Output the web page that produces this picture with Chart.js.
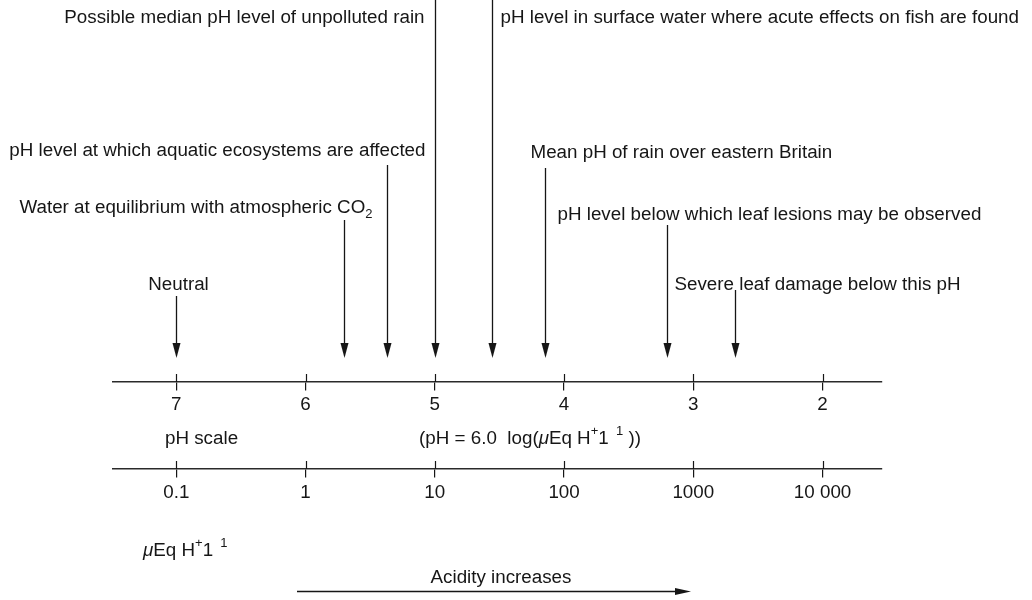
<!DOCTYPE html>
<html>
<head>
<meta charset="utf-8">
<script src="https://cdn.jsdelivr.net/npm/chart.js@4.4.0/dist/chart.umd.min.js"></script>
<style>
  html, body { margin: 0; padding: 0; background: #fff; }
  #wrap { width: 1032px; height: 600px; }
</style>
</head>
<body>
<div id="wrap"><canvas id="c"></canvas></div>
<script>
// pH scale ticks and the matching concentration ticks (uEq H+ per litre)
const phTicks = [7, 6, 5, 4, 3, 2];
const concTicks = [0.1, 1, 10, 100, 1000, 10000];
const concTickLabels = ['0.1', '1', '10', '100', '1000', '10 000'];

// annotated pH levels
const markerLabels = [
  'Neutral',
  'Water at equilibrium with atmospheric CO',
  'pH level at which aquatic ecosystems are affected',
  'Possible median pH level of unpolluted rain',
  'pH level in surface water where acute effects on fish are found',
  'Mean pH of rain over eastern Britain',
  'pH level below which leaf lesions may be observed',
  'Severe leaf damage below this pH'
];
const markerPH = [7.0, 5.7, 5.37, 5.0, 4.56, 4.15, 3.2, 2.68];

// where each label sits (y of text, alignment, offset from arrow, arrow start)
const labelLayout = [
  { ty: 285, align: 'center', dx: 2, top: 296 },
  { ty: 208, align: 'right', dx: 28, top: 220, sub: '2' },
  { ty: 151, align: 'right', dx: 38, top: 165 },
  { ty: 18, align: 'right', dx: -11, top: 0 },
  { ty: 18, align: 'left', dx: 8, top: 0 },
  { ty: 153, align: 'left', dx: -15, top: 168 },
  { ty: 215, align: 'left', dx: -110, top: 225 },
  { ty: 285, align: 'left', dx: -61, top: 290 }
];

const PH_AXIS_Y = 382;
const CONC_AXIS_Y = 469;
const ARROW_TIP_Y = 358;
const FONT = '"Liberation Sans", Arial, Helvetica, sans-serif';
const FS = 18.8;
const INK = '#161616';

Chart.defaults.font.family = FONT;
Chart.defaults.color = INK;

function drawRich(ctx, parts, x, y, align) {
  let total = 0;
  parts.forEach(p => { ctx.font = p.font; total += ctx.measureText(p.t).width; });
  let cx = align === 'center' ? x - total / 2 : (align === 'right' ? x - total : x);
  ctx.textAlign = 'left';
  ctx.textBaseline = 'middle';
  parts.forEach(p => {
    ctx.font = p.font;
    ctx.fillText(p.t, cx, y + (p.dy || 0));
    cx += ctx.measureText(p.t).width;
  });
}

const annotate = {
  id: 'annotate',
  afterDraw(chart) {
    const ctx = chart.ctx;
    const x = chart.scales.x, x2 = chart.scales.x2, y = chart.scales.y;
    const norm = FS + 'px ' + FONT;
    const small = '13px ' + FONT;
    const ital = 'italic ' + FS + 'px ' + FONT;
    ctx.save();
    ctx.fillStyle = INK;
    ctx.strokeStyle = INK;

    // upper half of the tick marks, crossing each axis line
    ctx.lineWidth = 1.2;
    [[x, PH_AXIS_Y], [x2, CONC_AXIS_Y]].forEach(([s, ay]) => {
      const py = y.getPixelForValue(ay);
      s.ticks.forEach(t => {
        const px = Math.round(s.getPixelForValue(t.value)) + 0.5;
        ctx.beginPath();
        ctx.moveTo(px, py - 8);
        ctx.lineTo(px, py);
        ctx.stroke();
      });
    });

    // arrows and their labels
    const tip = y.getPixelForValue(ARROW_TIP_Y);
    markerPH.forEach((v, i) => {
      const L = labelLayout[i];
      const px = Math.round(x.getPixelForValue(v)) + 0.5;
      const top = y.getPixelForValue(L.top);
      ctx.lineWidth = 1.3;
      ctx.beginPath();
      ctx.moveTo(px, top);
      ctx.lineTo(px, tip - 10);
      ctx.stroke();
      ctx.beginPath();
      ctx.moveTo(px, tip);
      ctx.lineTo(px - 4, tip - 15);
      ctx.lineTo(px + 4, tip - 15);
      ctx.closePath();
      ctx.fill();

      const parts = [{ t: markerLabels[i], font: norm }];
      if (L.sub) parts.push({ t: L.sub, font: small, dy: 6 });
      drawRich(ctx, parts, px + L.dx, y.getPixelForValue(L.ty), L.align);
    });

    // axis captions
    drawRich(ctx, [{ t: 'pH scale', font: norm }], 165, 439, 'left');
    drawRich(ctx, [
      { t: '(pH = 6.0  log(', font: norm },
      { t: '\u03bc', font: ital },
      { t: 'Eq H', font: norm },
      { t: '+', font: small, dy: -8 },
      { t: '1', font: norm },
      { t: '  1', font: small, dy: -8 },
      { t: ' ))', font: norm }
    ], 530, 439, 'center');
    drawRich(ctx, [
      { t: '\u03bc', font: ital },
      { t: 'Eq H', font: norm },
      { t: '+', font: small, dy: -8 },
      { t: '1', font: norm },
      { t: '  1', font: small, dy: -8 }
    ], 143, 551, 'left');

    // acidity arrow
    drawRich(ctx, [{ t: 'Acidity increases', font: norm }], 501, 578, 'center');
    const ay = 591.5;
    ctx.lineWidth = 1.3;
    ctx.beginPath();
    ctx.moveTo(297, ay);
    ctx.lineTo(680, ay);
    ctx.stroke();
    ctx.beginPath();
    ctx.moveTo(691, ay);
    ctx.lineTo(675, ay - 3.5);
    ctx.lineTo(675, ay + 3.5);
    ctx.closePath();
    ctx.fill();
    ctx.restore();
  }
};

const phMin = 1.54, phMax = 7.49;

new Chart(document.getElementById('c'), {
  type: 'scatter',
  data: { datasets: [{ data: [], showLine: false }] },
  options: {
    responsive: true,
    maintainAspectRatio: false,
    animation: false,
    layout: { padding: { left: 113, right: 150, top: 0, bottom: 0 } },
    plugins: { legend: { display: false }, tooltip: { enabled: false } },
    scales: {
      y: {
        type: 'linear', display: false, min: 0, max: 600, reverse: true
      },
      x: {
        type: 'linear', axis: 'x', reverse: true, min: phMin, max: phMax,
        position: { y: PH_AXIS_Y },
        afterBuildTicks: s => { s.ticks = phTicks.map(v => ({ value: v })); },
        grid: { display: true, drawOnChartArea: false, drawTicks: true, tickLength: 8, color: INK, lineWidth: 1.2 },
        border: { display: true, color: '#2a2a2a', width: 1.6 },
        ticks: { font: { size: FS }, color: INK, padding: 4, maxRotation: 0, callback: v => String(v) }
      },
      x2: {
        type: 'logarithmic', axis: 'x',
        min: Math.pow(10, 6 - phMax), max: Math.pow(10, 6 - phMin),
        position: { y: CONC_AXIS_Y },
        afterBuildTicks: s => { s.ticks = concTicks.map(v => ({ value: v })); },
        grid: { display: true, drawOnChartArea: false, drawTicks: true, tickLength: 8, color: INK, lineWidth: 1.2 },
        border: { display: true, color: '#2a2a2a', width: 1.6 },
        ticks: {
          font: { size: FS }, color: INK, padding: 5, maxRotation: 0, autoSkip: false,
          callback: (v, i) => concTickLabels[i]
        }
      }
    }
  },
  plugins: [annotate]
});
</script>
</body>
</html>
